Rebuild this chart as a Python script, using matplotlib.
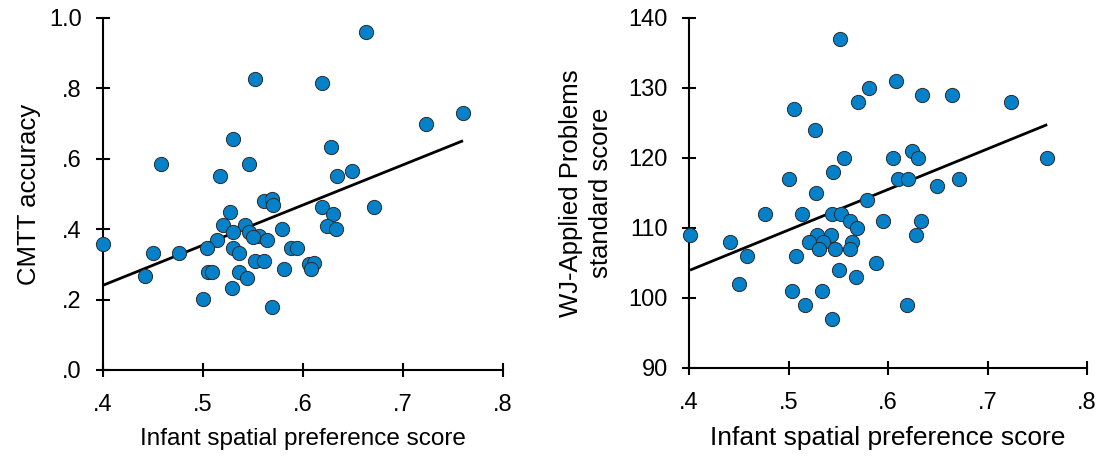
import numpy as np
import matplotlib
matplotlib.use("Agg")
import matplotlib.pyplot as plt

plt.rcParams['font.family'] = ['Liberation Sans', 'DejaVu Sans']

# Left panel: infant spatial preference vs CMTT accuracy
cmtt_x = [0.663, 0.552, 0.619, 0.760, 0.723, 0.530, 0.628, 0.458, 0.546, 0.517,
          0.634, 0.649, 0.561, 0.569, 0.570, 0.619, 0.671, 0.630, 0.527, 0.520,
          0.542, 0.579, 0.624, 0.633, 0.530, 0.546, 0.556, 0.564, 0.514, 0.400,
          0.504, 0.530, 0.536, 0.450, 0.476, 0.588, 0.594, 0.552, 0.561, 0.606,
          0.611, 0.608, 0.581, 0.505, 0.509, 0.536, 0.544, 0.442, 0.529, 0.500,
          0.569, 0.550]
cmtt_y = [0.961, 0.827, 0.814, 0.730, 0.700, 0.655, 0.633, 0.586, 0.585, 0.550,
          0.550, 0.565, 0.479, 0.485, 0.468, 0.463, 0.463, 0.444, 0.448, 0.412,
          0.412, 0.401, 0.408, 0.400, 0.391, 0.391, 0.381, 0.368, 0.368, 0.357,
          0.346, 0.346, 0.333, 0.333, 0.333, 0.346, 0.346, 0.311, 0.311, 0.302,
          0.303, 0.286, 0.286, 0.277, 0.277, 0.277, 0.260, 0.268, 0.232, 0.201,
          0.179, 0.379]

# Right panel: infant spatial preference vs WJ-Applied Problems
wj_x = [0.552, 0.608, 0.581, 0.634, 0.664, 0.724, 0.570, 0.506, 0.527, 0.556,
        0.605, 0.624, 0.630, 0.760, 0.545, 0.500, 0.610, 0.620, 0.671, 0.649,
        0.528, 0.579, 0.476, 0.514, 0.544, 0.553, 0.562, 0.595, 0.633, 0.569,
        0.401, 0.628, 0.441, 0.529, 0.543, 0.521, 0.535, 0.531, 0.547, 0.564,
        0.562, 0.458, 0.508, 0.588, 0.551, 0.568, 0.450, 0.504, 0.534, 0.517,
        0.619, 0.544]
wj_y = [137, 131, 130, 129, 129, 128, 128, 127, 124, 120,
        120, 121, 120, 120, 118, 117, 117, 117, 117, 116,
        115, 114, 112, 112, 112, 112, 111, 111, 111, 110,
        109, 109, 108, 109, 109, 108, 108, 107, 107, 108,
        107, 106, 106, 105, 104, 103, 102, 101, 101, 99,
        99, 97]

x_ticks = [0.4, 0.5, 0.6, 0.7, 0.8]
x_ticklabels = ['.4', '.5', '.6', '.7', '.8']
cmtt_ticks = [0.0, 0.2, 0.4, 0.6, 0.8, 1.0]
cmtt_ticklabels = ['.0', '.2', '.4', '.6', '.8', '1.0']
wj_ticks = [90, 100, 110, 120, 130, 140]
wj_ticklabels = ['90', '100', '110', '120', '130', '140']

DOT = '#0581C9'
EDGE = '#2b2b2b'

fig = plt.figure(figsize=(11.04, 4.58), dpi=100)
ax1 = fig.add_axes([103 / 1104, 88 / 458, 400 / 1104, 352 / 458])
ax2 = fig.add_axes([689 / 1104, 90 / 458, 398 / 1104, 350 / 458])


def style(ax, xs, ys, yticks, yticklabels, ylabel, ylabelpad, xlabelsize,
          ylinespacing):
    ax.scatter(xs, ys, s=105, c=DOT, edgecolors=EDGE, linewidths=0.7,
               zorder=3, clip_on=False)
    b, a = np.polyfit(xs, ys, 1)
    lx = np.array([min(xs), max(xs)])
    ax.plot(lx, a + b * lx, color='black', lw=2.0, zorder=2, solid_capstyle='butt')
    ax.set_xlim(x_ticks[0], x_ticks[-1])
    ax.set_ylim(yticks[0], yticks[-1])
    ax.set_xticks(x_ticks)
    ax.set_xticklabels(x_ticklabels)
    ax.set_yticks(yticks)
    ax.set_yticklabels(yticklabels)
    for s in ['top', 'right']:
        ax.spines[s].set_visible(False)
    for s in ['left', 'bottom']:
        ax.spines[s].set_linewidth(1.5)
        ax.spines[s].set_zorder(1)
    ax.tick_params(axis='both', direction='inout', length=10.5, width=1.5,
                   labelsize=17, colors='black')
    ax.tick_params(axis='y', pad=10)
    ax.tick_params(axis='x', pad=12)
    ax.set_xlabel('Infant spatial preference score', fontsize=xlabelsize,
                  labelpad=8.5)
    ax.set_ylabel(ylabel, fontsize=18.5, labelpad=ylabelpad,
                  linespacing=ylinespacing)


style(ax1, cmtt_x, cmtt_y, cmtt_ticks, cmtt_ticklabels, 'CMTT accuracy', 6,
      17.5, 1.15)
style(ax2, wj_x, wj_y, wj_ticks, wj_ticklabels,
      'WJ-Applied Problems\nstandard score', 11, 19, 1.35)

fig.savefig('out.png', dpi=100)
